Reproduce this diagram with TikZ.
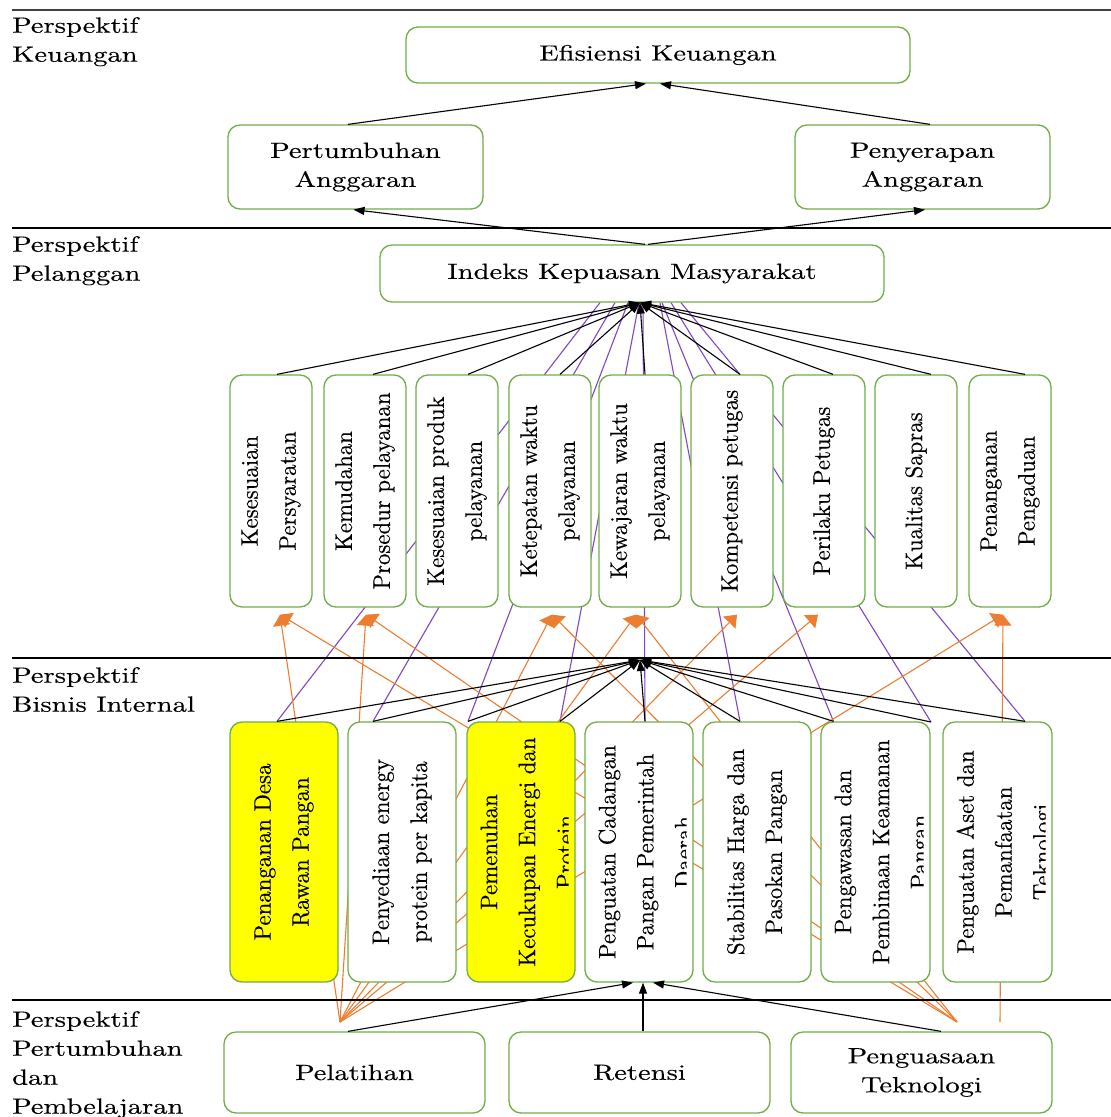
\documentclass[tikz,border=0pt]{standalone}
\usepackage{fontspec}
\setmainfont{lmroman10-regular.otf}[FakeStretch=1.3, FakeBold=0.25]
\newfontfamily\rotfont{lmroman10-regular.otf}[FakeStretch=0.95, FakeBold=0.3]
\usetikzlibrary{arrows.meta,calc}
\definecolor{bgreen}{RGB}{112,173,71}
\definecolor{orng}{RGB}{237,125,49}
\definecolor{purp}{RGB}{128,72,192}
\definecolor{yel}{RGB}{255,255,0}
\pgfdeclarelayer{bg}
\pgfsetlayers{bg,main}
\begin{document}
\begin{tikzpicture}[x=1pt,y=-1pt,
  box/.style={draw=bgreen, line width=1.3pt, rounded corners=12pt, fill=white, inner sep=0pt, align=center, font=\fontsize{22}{29}\selectfont},
  cbox/.style={box, minimum width=82pt, minimum height=232pt},
  ibox/.style={box, minimum width=108pt, minimum height=260pt},
  bbox/.style={box, minimum width=261pt, minimum height=81pt},
  rottxt/.style={rotate=90, inner sep=0pt, align=center, font=\rotfont\fontsize{24}{38}\selectfont},
  lbl/.style={anchor=north west, inner sep=0pt, align=left, font=\fontsize{22}{29}\selectfont},
  sepline/.style={line width=1.3pt},
  blk/.style={line width=1.1pt, -{Triangle[length=11pt,width=8pt]}},
  prp/.style={draw=purp, line width=1.1pt},
  org/.style={draw=orng, line width=1.1pt, -{Triangle[length=11pt,width=17pt]}},
]
\useasboundingbox (0,0) rectangle (1111,1117);

% separators
\draw[sepline, draw=black!75] (12,10) -- (1111,10);
\draw[sepline] (12,228) -- (1111,228);
\draw[sepline] (12,658) -- (1111,658);
\draw[sepline] (12,1000) -- (1111,1000);

% perspective labels
\node[lbl] (L1) at (12,17) {Perspektif\\Keuangan};
\node[lbl] (L2) at (12,236) {Perspektif\\Pelanggan};
\node[lbl] (L3) at (12,667) {Perspektif\\Bisnis Internal};
\node[lbl] (L4) at (12,1011) {Perspektif\\Pertumbuhan\\dan\\Pembelajaran};

% financial
\node[box, minimum width=504pt, minimum height=56pt] (ef) at (658,55) {Efisiensi Keuangan};
\node[box, minimum width=255pt, minimum height=84pt] (pert) at (355.5,167) {Pertumbuhan\\Anggaran};
\node[box, minimum width=255pt, minimum height=84pt] (peny) at (922.5,167) {Penyerapan\\Anggaran};

% customer
\node[box, minimum width=504pt, minimum height=57pt] (idx) at (632,273.5) {Indeks Kepuasan Masyarakat};
\node[cbox] (c1) at (271,491) {};
\node[cbox] (c2) at (365,491) {};
\node[cbox] (c3) at (457,491) {};
\node[cbox] (c4) at (550,491) {};
\node[cbox] (c5) at (640,491) {};
\node[cbox] (c6) at (732,491) {};
\node[cbox] (c7) at (824,491) {};
\node[cbox] (c8) at (916,491) {};
\node[cbox] (c9) at (1010,491) {};
\node[rottxt] (c1t) at (c1) {Kesesuaian\\Persyaratan};
\node[rottxt] (c2t) at (c2) {Kemudahan\\Prosedur pelayanan};
\node[rottxt] (c3t) at (c3) {Kesesuaian produk\\pelayanan};
\node[rottxt] (c4t) at (c4) {Ketepatan waktu\\pelayanan};
\node[rottxt] (c5t) at (c5) {Kewajaran waktu\\pelayanan};
\node[rottxt] (c6t) at (c6) {Kompetensi petugas};
\node[rottxt] (c7t) at (c7) {Perilaku Petugas};
\node[rottxt] (c8t) at (c8) {Kualitas Sapras};
\node[rottxt] (c9t) at (c9) {Penanganan\\Pengaduan};

% internal
\node[ibox, fill=yel] (i1) at (284,852) {};
\node[ibox] (i2) at (402,852) {};
\node[ibox, fill=yel] (i3) at (521,852) {};
\node[ibox] (i4) at (639,852) {};
\node[ibox] (i5) at (757,852) {};
\node[ibox, minimum width=109pt] (i6) at (875.5,852) {};
\node[ibox, minimum width=109pt] (i7) at (997.5,852) {};
\node[rottxt] (i1t) at (i1) {Penanganan Desa\\Rawan Pangan};
\node[rottxt] (i2t) at (i2) {Penyediaan energy\\protein per kapita};
\node[rottxt] (i5t) at (i5) {Stabilitas Harga dan\\Pasokan Pangan};
\begin{scope}
\clip ($(i3.south west)+(2,-5)$) rectangle ($(i3.north east)+(-7,5)$);
\node[rottxt, anchor=north] (i3t) at ($(i3.west)+(14,0)$) {Pemenuhan\\Kecukupan Energi dan\\Protein};
\end{scope}
\begin{scope}
\clip ($(i4.south west)+(2,-5)$) rectangle ($(i4.north east)+(-7,5)$);
\node[rottxt, anchor=north] (i4t) at ($(i4.west)+(14,0)$) {Penguatan Cadangan\\Pangan Pemerintah\\Daerah};
\end{scope}
\begin{scope}
\clip ($(i6.south west)+(2,-5)$) rectangle ($(i6.north east)+(-7,5)$);
\node[rottxt, anchor=north] (i6t) at ($(i6.west)+(14,0)$) {Pengawasan dan\\Pembinaan Keamanan\\Pangan};
\end{scope}
\begin{scope}
\clip ($(i7.south west)+(2,-5)$) rectangle ($(i7.north east)+(-7,5)$);
\node[rottxt, anchor=north] (i7t) at ($(i7.west)+(14,0)$) {Penguatan Aset dan\\Pemanfaatan\\Teknologi};
\end{scope}

% learning
\node[bbox] (pel) at (354.5,1072.5) {Pelatihan};
\node[bbox] (ret) at (639.5,1072.5) {Retensi};
\node[bbox] (peng) at (921.5,1072.5) {Penguasaan\\Teknologi};

% named points
\coordinate (hubC) at ([xshift=8pt]idx.south);
\coordinate (hubI) at (640,660);
\coordinate (q1) at ([xshift=-7pt]i1.north);
\coordinate (q2) at ([xshift=-29pt]i2.north);
\coordinate (q3) at ([xshift=-53pt]i3.north);
\coordinate (q4) at ([xshift=39pt]i3.north);
\coordinate (q5) at ([xshift=6pt]i4.north);
\coordinate (q6) at ([xshift=-17pt]i5.north);
\coordinate (q7) at ([xshift=-42pt]i6.north);
\coordinate (q8) at (931,722);
\coordinate (q9) at ([xshift=27.5pt]i7.north);
\coordinate (oA) at (340,1022);
\coordinate (oB) at (957,1022);
\coordinate (oC) at (1000,1022);
\coordinate (a1) at ($(c1.south)+(9,7)$);
\coordinate (a2) at ($(c2.south)+(1,7)$);
\coordinate (a4) at ($(c4.south)+(2,7)$);
\coordinate (a5) at ($(c5.south)+(-4,7)$);
\coordinate (a6) at ($(c6.south)+(5,7)$);
\coordinate (a7) at ($(c7.south)+(-6,7)$);
\coordinate (a9) at ($(c9.south)+(-7,7)$);

\begin{pgfonlayer}{bg}
\fill[white] (0,0) rectangle (1111,1117);
% purple: internal -> satisfaction index (behind customer boxes)
\draw[prp] (q1) -- ([xshift=-32pt]idx.south);
\draw[prp] (q2) -- ([xshift=-17pt]idx.south);
\draw[prp] (q3) -- ([xshift=-4pt]idx.south);
\draw[prp] (q4) -- ([xshift=7pt]idx.south);
\draw[prp] (q5) -- ([xshift=11pt]idx.south);
\draw[prp] (q6) -- ([xshift=28pt]idx.south);
\draw[prp] (q7) -- ([xshift=30pt]idx.south);
\draw[prp] (q8) -- ([xshift=39pt]idx.south);
\draw[prp] (q9) -- ([xshift=49pt]idx.south);
% orange: learning -> customer
\draw[org] (oA) -- (a1);
\draw[org] (oA) -- (a2);
\draw[org] (oA) -- (a4);
\draw[org] (oA) -- (a5);
\draw[org] (oA) -- (a6);
\draw[org] (oA) -- (a7);
\draw[org] (oA) -- (a9);
\draw[org] (oB) -- (a1);
\draw[org] (oB) -- (a2);
\draw[org] (oB) -- (a4);
\draw[org] (oB) -- (a5);
\draw[org] (oC) -- (a9);
\end{pgfonlayer}

% black: customer -> index
\draw[blk] ([xshift=6pt]c1.north) -- (hubC);
\draw[blk] ([xshift=8pt]c2.north) -- (hubC);
\draw[blk] ([xshift=11pt]c3.north) -- (hubC);
\draw[blk] ([xshift=10pt]c4.north) -- (hubC);
\draw[blk] ([xshift=5pt]c5.north) -- (hubC);
\draw[blk] ([xshift=8pt]c6.north) -- (hubC);
\draw[blk] ([xshift=9pt]c7.north) -- (hubC);
\draw[blk] ([xshift=15pt]c8.north) -- (hubC);
\draw[blk] ([xshift=15pt]c9.north) -- (hubC);
% black: internal -> hub
\foreach \q in {q1,q2,q3,q4,q5,q6,q7,q8,q9} \draw[blk] (\q) -- (hubI);
% black: index -> finance
\draw[blk] ([xshift=13pt]idx.north) -- ([xshift=-2pt]pert.south);
\draw[blk] ([xshift=16pt]idx.north) -- ([xshift=2.5pt]peny.south);
\draw[blk] ([xshift=-7.5pt]pert.north) -- ([xshift=-12pt]ef.south);
\draw[blk] ([xshift=7.5pt]peny.north) -- ([xshift=2pt]ef.south);
% black: learning -> internal
\draw[blk] ([xshift=-6.5pt]pel.north) -- ([xshift=-6pt]i4.south);
\draw[blk] ([xshift=3.5pt]ret.north) -- ([xshift=4pt]i4.south);
\draw[blk] ([xshift=19.5pt]peng.north) -- ([xshift=14pt]i4.south);
\end{tikzpicture}
\end{document}
